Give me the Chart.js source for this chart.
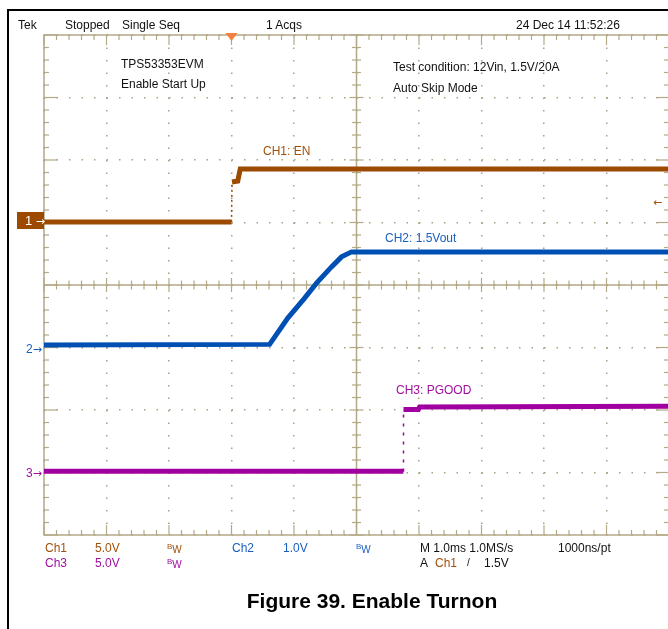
<!DOCTYPE html>
<html>
<head>
<meta charset="utf-8">
<script src="https://cdn.jsdelivr.net/npm/chart.js@4.4.1/dist/chart.umd.min.js"></script>
<style>
    body { margin: 0; width: 668px; height: 629px; overflow: hidden; background: #fff; position: relative; }
    #frame { position: absolute; left: 7px; top: 9px; width: 700px; height: 700px; border-left: 2px solid #000; border-top: 2px solid #000; }
    #wrap { position: absolute; left: 0; top: 0; width: 680px; height: 560px; }
    .t { position: absolute; font: 12px 'Liberation Sans', Arial, sans-serif; line-height: 14px; white-space: pre; color: #111; }
    .br { color: #a0500c; }
    .bl { color: #1a5fc0; }
    .mg { color: #a010a0; }
    .ar { font-family: 'DejaVu Sans', sans-serif; font-size: 11px; }
    .bw b { font-weight: normal; font-size: 8px; position: relative; top: -3px; }
    .bw i { font-style: normal; font-size: 10px; position: relative; top: 1px; }
    #cap { position: absolute; left: 172px; top: 589px; width: 400px; text-align: center; font: bold 21px 'Liberation Sans', Arial, sans-serif; line-height: 24px; color: #000; }
    #m1 { position: absolute; left: 17px; top: 212px; width: 27px; height: 17px; background: #9c4a00; color: #fff; font: 13px 'Liberation Sans', Arial, sans-serif; line-height: 17px; padding-left: 8px; box-sizing: border-box; white-space: pre; }
</style>
</head>
<body>
<div id="frame"></div>
<div id="wrap"><canvas id="scope" width="680" height="560"></canvas></div>

<div class="t" style="left:18px;top:18px">Tek</div>
<div class="t" style="left:65px;top:18px">Stopped</div>
<div class="t" style="left:122px;top:18px">Single Seq</div>
<div class="t" style="left:266px;top:18px">1 Acqs</div>
<div class="t" style="left:516px;top:18px">24 Dec 14 11:52:26</div>

<div class="t" style="left:121px;top:57px">TPS53353EVM</div>
<div class="t" style="left:121px;top:77px">Enable Start Up</div>
<div class="t" style="left:393px;top:60px">Test condition: 12Vin, 1.5V/20A</div>
<div class="t" style="left:393px;top:81px">Auto Skip Mode</div>

<div class="t br" style="left:263px;top:144px">CH1: EN</div>
<div class="t bl" style="left:385px;top:231px">CH2: 1.5Vout</div>
<div class="t mg" style="left:396px;top:383px">CH3: PGOOD</div>

<div id="m1">1<span class="ar"> →</span></div>
<div class="t bl" style="left:26px;top:342px">2<span class="ar">→</span></div>
<div class="t mg" style="left:26px;top:466px">3<span class="ar">→</span></div>
<div class="t br ar" style="left:653px;top:196px">←</div>

<div class="t br" style="left:45px;top:541px">Ch1</div>
<div class="t br" style="left:95px;top:541px">5.0V</div>
<div class="t br bw" style="left:167px;top:541px"><b>B</b><i>W</i></div>
<div class="t bl" style="left:232px;top:541px">Ch2</div>
<div class="t bl" style="left:283px;top:541px">1.0V</div>
<div class="t bl bw" style="left:356px;top:541px"><b>B</b><i>W</i></div>
<div class="t" style="left:420px;top:541px">M 1.0ms 1.0MS/s</div>
<div class="t" style="left:558px;top:541px">1000ns/pt</div>

<div class="t mg" style="left:45px;top:556px">Ch3</div>
<div class="t mg" style="left:95px;top:556px">5.0V</div>
<div class="t mg bw" style="left:167px;top:556px"><b>B</b><i>W</i></div>
<div class="t" style="left:420px;top:556px">A</div>
<div class="t br" style="left:435px;top:556px">Ch1</div>
<div class="t" style="left:467px;top:556px;font-size:10px">/</div>
<div class="t" style="left:484px;top:556px">1.5V</div>

<div id="cap">Figure 39. Enable Turnon</div>

<script>
// CH1: EN (5 V/div)
const ch1Time = [-3, 0, 0.008, 0.1, 0.14, 7];
const ch1Volts = [0.05, 0.05, 3.24, 3.32, 4.28, 4.28];

// CH2: 1.5Vout (1 V/div)
const ch2Time = [-3, 0.61, 0.90, 1.17, 1.36, 1.60, 1.76, 1.92, 7];
const ch2Volts = [0.04, 0.05, 0.47, 0.79, 1.03, 1.29, 1.45, 1.53, 1.53];

// CH3: PGOOD (5 V/div)
const ch3Time = [-3, 2.75, 2.752, 2.99, 3.01, 7];
const ch3Volts = [0.1, 0.1, 5.04, 5.04, 5.24, 5.3];

const gridColor = '#aaa083';
const frameColor = '#b3a986';

function toPoints(times, volts) {
    return times.map((t, i) => ({ x: t, y: volts[i] }));
}

// fast edges show up as sparse dots on the scope
function steep(ctx) {
    const dx = Math.abs(ctx.p1.parsed.x - ctx.p0.parsed.x);
    const dy = Math.abs(ctx.p1.parsed.y - ctx.p0.parsed.y);
    return dx < 0.015 && dy > 1;
}

function trace(label, times, volts, axis, color, dash) {
    return {
        label: label,
        data: toPoints(times, volts),
        yAxisID: axis,
        borderColor: color,
        borderWidth: 5,
        pointRadius: 0,
        tension: 0,
        segment: {
            borderWidth: ctx => steep(ctx) ? 1.5 : undefined,
            borderDash: ctx => steep(ctx) ? dash : undefined
        }
    };
}

const graticule = {
    id: 'graticule',
    beforeDatasetsDraw(chart) {
        const { ctx, chartArea: a, scales: { x, g } } = chart;
        const line = (x1, y1, x2, y2) => {
            ctx.beginPath(); ctx.moveTo(x1, y1); ctx.lineTo(x2, y2); ctx.stroke();
        };
        ctx.save();
        ctx.strokeStyle = frameColor;
        ctx.lineWidth = 1.5;
        ctx.strokeRect(a.left, a.top, a.right - a.left, a.bottom - a.top);
        const cx = x.getPixelForValue(2);
        const cy = g.getPixelForValue(0);
        line(a.left, cy, a.right, cy);
        line(cx, a.top, cx, a.bottom);

        ctx.lineWidth = 1.2;
        for (let i = 0; i <= 50; i++) {
            const px = x.getPixelForValue(-3 + i * 0.2);
            const major = i % 5 === 0;
            const len = major ? 10 : 5;
            line(px, a.top, px, a.top + len);
            line(px, a.bottom - len, px, a.bottom);
            const c = major ? 7 : 4.5;
            line(px, cy - c, px, cy + c);
        }
        for (let j = 0; j <= 40; j++) {
            const py = g.getPixelForValue(-4 + j * 0.2);
            const major = j % 5 === 0;
            const len = major ? 13 : 5;
            line(a.left, py, a.left + len, py);
            line(a.right - len, py, a.right, py);
            const c = major ? 7 : 4.5;
            line(cx - c, py, cx + c, py);
        }

        // trigger position marker
        const tx = x.getPixelForValue(0);
        ctx.fillStyle = '#f4803c';
        ctx.beginPath();
        ctx.moveTo(tx - 6, a.top - 2);
        ctx.lineTo(tx + 6, a.top - 2);
        ctx.lineTo(tx, a.top + 6);
        ctx.closePath();
        ctx.fill();
        ctx.restore();
    }
};

const hiddenAxis = (min, max) => ({ type: 'linear', display: false, min: min, max: max });
const gridAxis = {
    grid: { color: gridColor, lineWidth: 1.5, drawTicks: false },
    border: { display: false, dash: [1.5, 11] },
    ticks: { display: false, stepSize: 1 }
};

new Chart(document.getElementById('scope').getContext('2d'), {
    type: 'line',
    data: {
        datasets: [
            trace('CH1: EN', ch1Time, ch1Volts, 'y1', '#9c4a00', [2, 3]),
            trace('CH2: 1.5Vout', ch2Time, ch2Volts, 'y2', '#0050b4', [2, 3]),
            trace('CH3: PGOOD', ch3Time, ch3Volts, 'y3', '#a000a0', [3, 6])
        ]
    },
    options: {
        responsive: false,
        animation: false,
        events: [],
        devicePixelRatio: 1,
        layout: { padding: { left: 44, top: 35, right: 11, bottom: 25 } },
        plugins: { legend: { display: false }, tooltip: { enabled: false } },
        scales: {
            x: Object.assign({ type: 'linear', min: -3, max: 7 }, gridAxis),
            g: Object.assign({ type: 'linear', position: 'left', min: -4, max: 4 }, gridAxis),
            y1: hiddenAxis(-25, 15),
            y2: hiddenAxis(-3, 5),
            y3: hiddenAxis(-5, 35)
        }
    },
    plugins: [graticule]
});
</script>
</body>
</html>
